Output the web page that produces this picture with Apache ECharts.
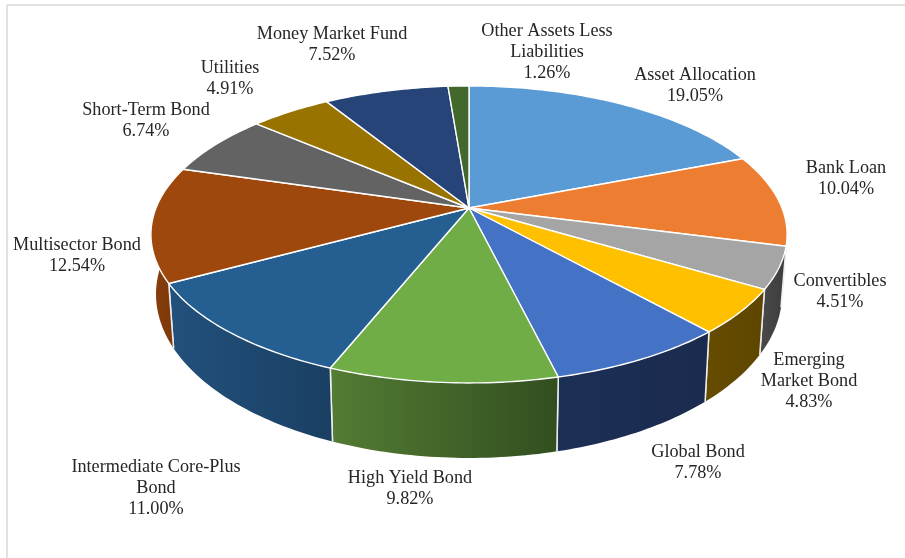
<!DOCTYPE html>
<html>
<head>
<meta charset="utf-8">
<script src="https://cdn.jsdelivr.net/npm/echarts@6/dist/echarts.min.js"></script>
<style>
  html, body { margin: 0; padding: 0; background: #fff; }
  #main { width: 905px; height: 558px; }
</style>
</head>
<body>
<div id="main"></div>
<script>
// slices, clockwise from 12 o'clock
var names = ['Asset Allocation', 'Bank Loan', 'Convertibles', 'Emerging\nMarket Bond', 'Global Bond', 'High Yield Bond',
  'Intermediate Core-Plus\nBond', 'Multisector Bond', 'Short-Term Bond', 'Utilities', 'Money Market Fund', 'Other Assets Less\nLiabilities'];
var values = [19.05, 10.04, 4.51, 4.83, 7.78, 9.82, 11.00, 12.54, 6.74, 4.91, 7.52, 1.26];

var faceColors = ['#5b9bd5', '#ed7d31', '#a5a5a5', '#ffc000', '#4472c4', '#70ad47', '#255e91', '#9e480e', '#636363', '#997300', '#264478', '#43682b'];
var wallLeft = ['#3d6a94', '#a35621', '#4a4a4a', '#664c00', '#1c2f55', '#537c34', '#22517c', '#8a3e0c', '#444444', '#6a4f00', '#1a2f53', '#2e481e'];
var wallRight = ['#2f5375', '#84451b', '#3c3c3c', '#5e4600', '#1a2b4e', '#324e1f', '#1a3f62', '#7d380b', '#3c3c3c', '#5e4600', '#1a2b4e', '#2e481e'];

// label anchor points (centre of each text block)
var labelPos = [[695, 86], [846, 179], [840, 292], [809, 381], [698, 463], [410, 489],
  [156, 488], [77, 256], [146, 121], [230, 79], [332, 45], [547, 52]];

// perspective of the disc: top face and bottom face of the cylinder
var CX = 469, K = 0.178;
var topFace = { y0: 208, a: 143.8, b: 313 };
var bottomFace = { y0: 265, a: 158.6, b: 308 };

function project(face, angle) {
  var u = Math.sin(angle), v = Math.cos(angle), w = 1 + K * v;
  return [CX + face.b * u / w, face.y0 - face.a * v / w];
}

var total = values.reduce(function (s, v) { return s + v; }, 0);
function sliceAngles(i) {
  var before = 0;
  for (var j = 0; j < i; j++) before += values[j];
  return [before / total * Math.PI * 2, (before + values[i]) / total * Math.PI * 2];
}

function arc(face, a0, a1) {
  var n = Math.max(2, Math.ceil((a1 - a0) / (Math.PI / 180))), pts = [];
  for (var i = 0; i <= n; i++) pts.push(project(face, a0 + (a1 - a0) * i / n));
  return pts;
}

function renderWall(params) {
  var i = params.dataIndex, ang = sliceAngles(i);
  // back half is always hidden behind the top face
  var a0 = Math.max(ang[0], Math.PI / 2 - 0.15), a1 = Math.min(ang[1], Math.PI * 1.5 + 0.15);
  if (a1 <= a0) return null;
  var upper = arc(topFace, a0, a1), lower = arc(bottomFace, a0, a1);
  var xs = upper.concat(lower).map(function (p) { return p[0]; });
  var minX = Math.min.apply(null, xs), maxX = Math.max.apply(null, xs);
  var children = [{
    type: 'polygon',
    shape: { points: upper.concat(lower.slice().reverse()) },
    style: {
      fill: new echarts.graphic.LinearGradient(minX, 0, maxX, 0, [
        { offset: 0, color: wallLeft[i] }, { offset: 1, color: wallRight[i] }
      ], true)
    }
  }];
  // white seams between walls
  [[a0, ang[0]], [a1, ang[1]]].forEach(function (e) {
    if (e[0] !== e[1]) return;
    var p = project(topFace, e[0]), q = project(bottomFace, e[0]);
    children.push({
      type: 'line',
      shape: { x1: p[0], y1: p[1], x2: q[0], y2: q[1] },
      style: { stroke: '#eeeeee', lineWidth: 1.5 }
    });
  });
  return { type: 'group', children: children };
}

function renderFace(params) {
  var i = params.dataIndex, ang = sliceAngles(i);
  return {
    type: 'polygon',
    shape: { points: [[CX, topFace.y0]].concat(arc(topFace, ang[0], ang[1])) },
    style: { fill: faceColors[i], stroke: '#ffffff', lineWidth: 1.4, lineJoin: 'round' }
  };
}

var myChart = echarts.init(document.getElementById('main'), null, { renderer: 'canvas' });
var option = {
  animation: false,
  backgroundColor: '#ffffff',
  series: [
    { type: 'custom', coordinateSystem: 'none', silent: true, z: 1, data: values, renderItem: renderWall },
    { type: 'custom', coordinateSystem: 'none', silent: true, z: 2, data: values, renderItem: renderFace }
  ],
  graphic: [
    { type: 'line', shape: { x1: 7, y1: 5, x2: 905, y2: 5 }, style: { stroke: '#d9d9d9', lineWidth: 1.5 }, silent: true },
    { type: 'line', shape: { x1: 7, y1: 5, x2: 7, y2: 558 }, style: { stroke: '#d9d9d9', lineWidth: 1.5 }, silent: true }
  ].concat(names.map(function (n, i) {
    return {
      type: 'text',
      x: labelPos[i][0],
      y: labelPos[i][1],
      silent: true,
      style: {
        text: n + '\n' + values[i].toFixed(2) + '%',
        font: '18.2px "Liberation Serif"',
        fill: '#262626',
        align: 'center',
        verticalAlign: 'middle',
        lineHeight: 21
      }
    };
  }))
};

option && myChart.setOption(option);
window.onresize = myChart.resize;
</script>
</body>
</html>
